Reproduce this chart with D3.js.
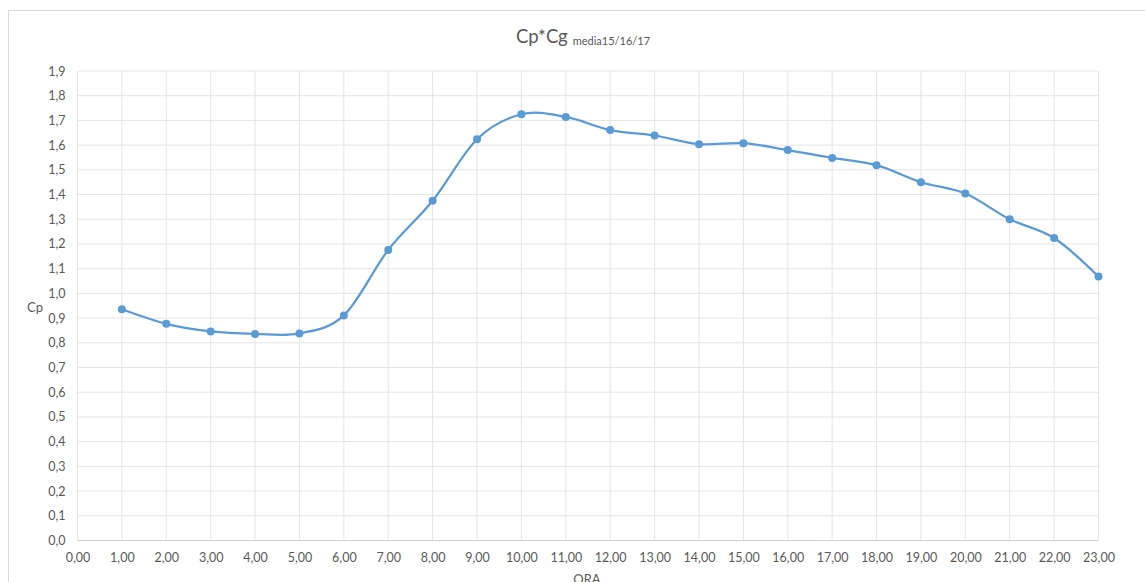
<!DOCTYPE html>
<html>
<head>
<meta charset="utf-8">
<script src="https://cdn.jsdelivr.net/npm/d3@7"></script>
<style>
  body { margin: 0; background: #fff; }
  text { font-family: Lato, "Open Sans", sans-serif; }
</style>
</head>
<body>
<svg id="chart" width="1145" height="582"></svg>
<script>
// hours on the x axis
const hours = [1, 2, 3, 4, 5, 6, 7, 8, 9, 10, 11, 12, 13, 14, 15, 16, 17, 18, 19, 20, 21, 22, 23];
// Cp*Cg averaged over 2015/16/17
const cpValues = [0.936, 0.877, 0.846, 0.836, 0.838, 0.911, 1.176, 1.375, 1.624, 1.725, 1.714, 1.661,
  1.639, 1.604, 1.608, 1.580, 1.548, 1.519, 1.450, 1.404, 1.300, 1.224, 1.068];
const xTicks = d3.range(0, 24);
const yTicks = d3.range(0, 20).map(d => d / 10);

const svg = d3.select("#chart");
const W = 1145, H = 582;
const margin = { top: 71, right: 46.5, bottom: 41.5, left: 77.5 };
const innerW = W - margin.left - margin.right;
const innerH = H - margin.top - margin.bottom;

const fmtX = d => d3.format(".2f")(d).replace(".", ",");
const fmtY = d => d3.format(".1f")(d).replace(".", ",");

// chart frame (top + left visible)
svg.append("path")
  .attr("d", `M8.5,${H} V10.5 H${W}`)
  .attr("fill", "none")
  .attr("stroke", "#d9d9d9")
  .attr("stroke-width", 1);

const x = d3.scaleLinear().domain([0, 23]).range([0, innerW]);
const y = d3.scaleLinear().domain([0, 1.9]).range([innerH, 0]);

const bounds = svg.append("g")
  .attr("transform", `translate(${margin.left},${margin.top})`);

// gridlines
bounds.append("g")
  .selectAll("line")
  .data(yTicks)
  .join("line")
  .attr("x1", 0)
  .attr("x2", innerW)
  .attr("y1", d => y(d))
  .attr("y2", d => y(d))
  .attr("stroke", d => d === 0 ? "#d0d0d0" : "#e4e4e4")
  .attr("stroke-width", 1);

bounds.append("g")
  .selectAll("line")
  .data(xTicks)
  .join("line")
  .attr("x1", d => x(d))
  .attr("x2", d => x(d))
  .attr("y1", 0)
  .attr("y2", innerH)
  .attr("stroke", "#e4e4e4")
  .attr("stroke-width", 1);

// axes
const xAxis = bounds.append("g")
  .attr("transform", `translate(0,${innerH})`)
  .call(d3.axisBottom(x).tickValues(xTicks).tickFormat(fmtX).tickSize(0).tickPadding(13));

const yAxis = bounds.append("g")
  .call(d3.axisLeft(y).tickValues(yTicks).tickFormat(fmtY).tickSize(0).tickPadding(12));

[xAxis, yAxis].forEach(a => {
  a.select(".domain").remove();
  a.selectAll("text")
    .attr("fill", "#595959")
    .style("font-size", "12.5px");
});

// smoothed line
const points = hours.map((h, i) => ({ h, v: cpValues[i] }));
const line = d3.line()
  .curve(d3.curveCardinal.tension(0))
  .x(d => x(d.h))
  .y(d => y(d.v));

bounds.append("path")
  .datum(points)
  .attr("fill", "none")
  .attr("stroke", "#5b9bd5")
  .attr("stroke-width", 2.25)
  .attr("stroke-linecap", "round")
  .attr("d", line);

bounds.append("g")
  .selectAll("circle")
  .data(points)
  .join("circle")
  .attr("cx", d => x(d.h))
  .attr("cy", d => y(d.v))
  .attr("r", 4)
  .attr("fill", "#5b9bd5");

// title
const title = svg.append("text")
  .attr("x", 583)
  .attr("y", 43)
  .attr("text-anchor", "middle")
  .attr("fill", "#595959");
title.append("tspan")
  .style("font-size", "18.5px")
  .text("Cp*Cg");
title.append("tspan")
  .attr("dx", 5)
  .attr("dy", 2)
  .style("font-size", "11px")
  .text("media15/16/17");

// axis titles
svg.append("text")
  .attr("x", 27)
  .attr("y", 312)
  .attr("fill", "#595959")
  .style("font-size", "13px")
  .text("Cp");

svg.append("text")
  .attr("x", 587)
  .attr("y", 584)
  .attr("text-anchor", "middle")
  .attr("fill", "#595959")
  .style("font-size", "13px")
  .text("ORA");
</script>
</body>
</html>
